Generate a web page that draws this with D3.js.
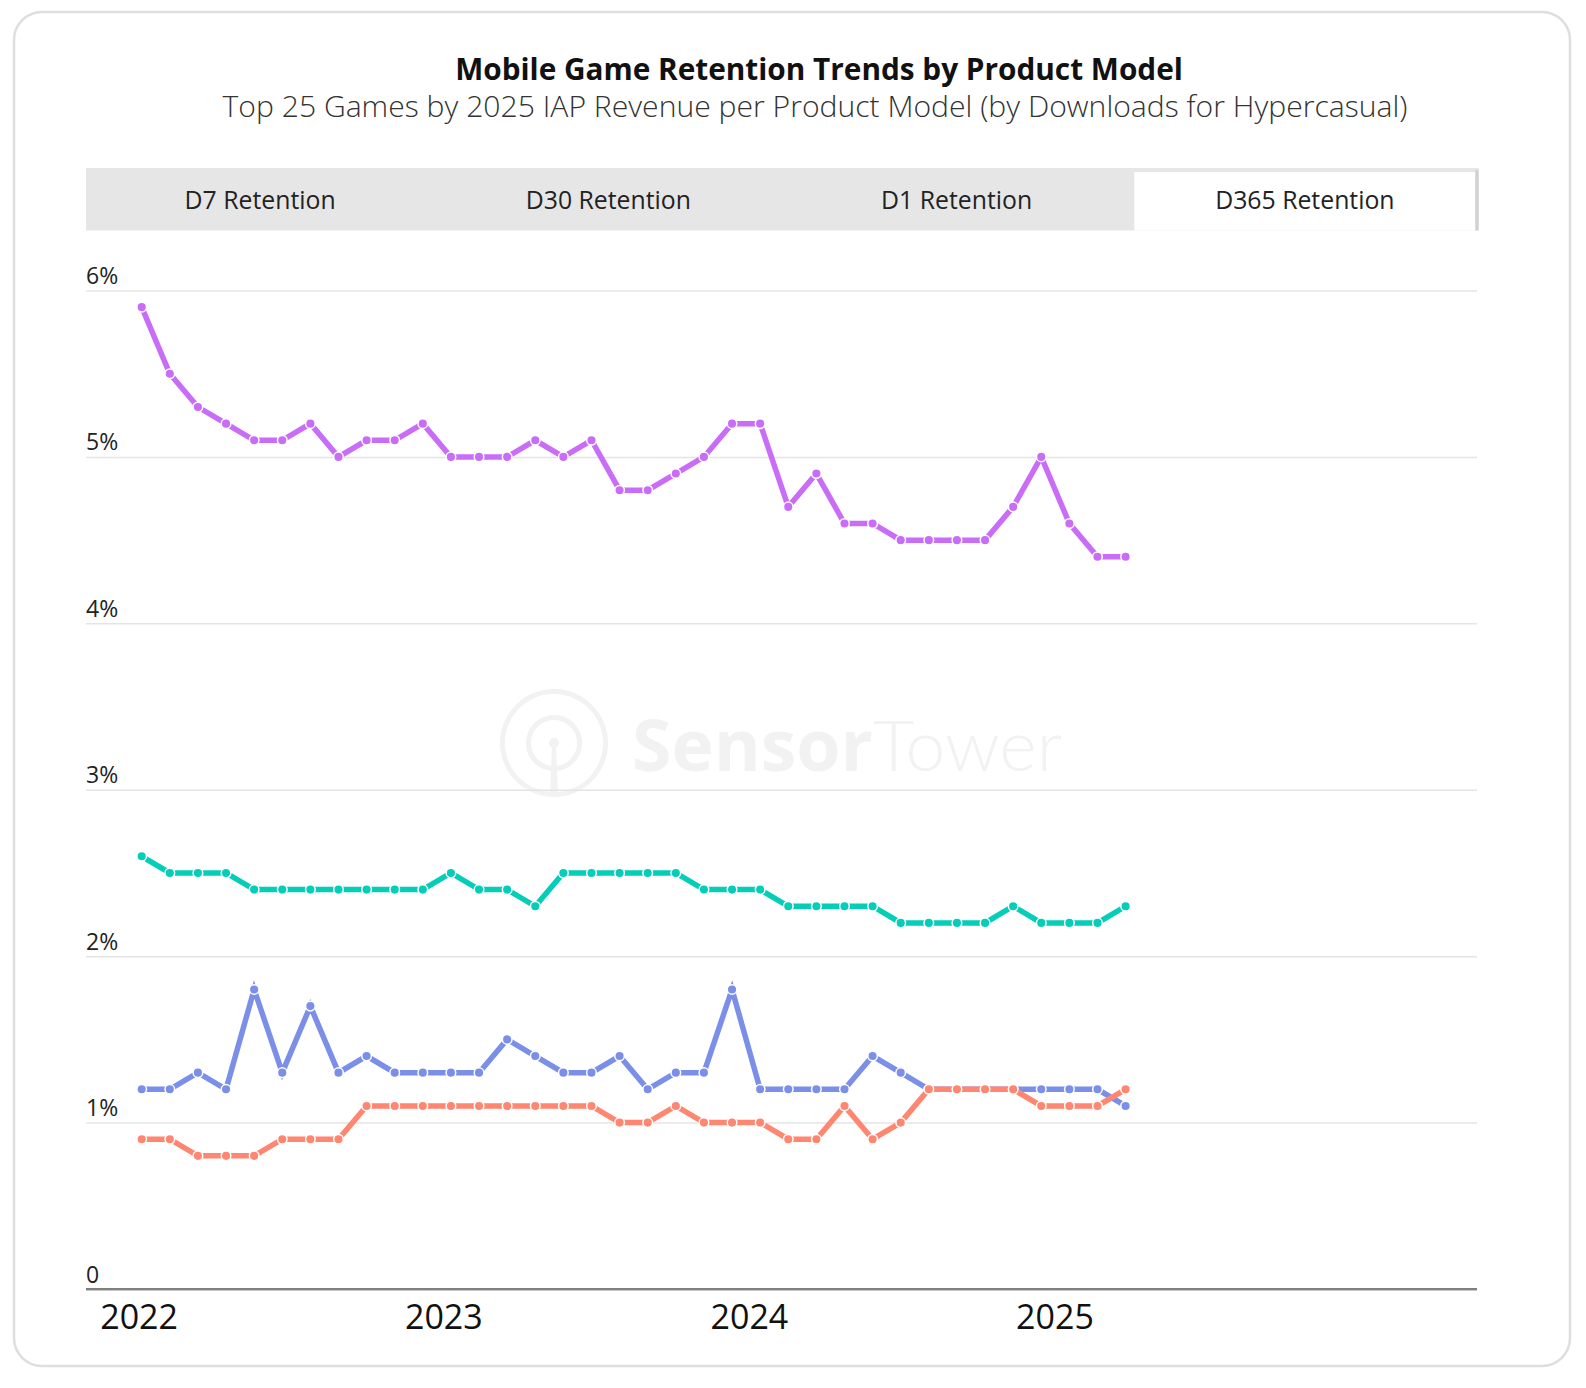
<!DOCTYPE html>
<html>
<head>
<meta charset="utf-8">
<script src="https://cdn.jsdelivr.net/npm/d3@7/dist/d3.min.js"></script>
<style>
  body { margin: 0; background: #fff; }
  svg text { font-family: "Open Sans", "Noto Sans", sans-serif; }
</style>
</head>
<body>
<svg id="chart" width="1586" height="1388"></svg>
<script>
/*
** Data
*/
var tabLabels = ["D7 Retention", "D30 Retention", "D1 Retention", "D365 Retention"];
var activeTab = "D365 Retention";
var yTickValues = [0, 1, 2, 3, 4, 5, 6];
var yearLabels = ["2022", "2023", "2024", "2025"];
// year label positions, in units of the point index
var yearPositions = [-0.11, 10.73, 21.6, 32.47];

var seriesPurple = [5.9, 5.5, 5.3, 5.2, 5.1, 5.1, 5.2, 5.0, 5.1, 5.1, 5.2, 5.0,
                    5.0, 5.0, 5.1, 5.0, 5.1, 4.8, 4.8, 4.9, 5.0, 5.2, 5.2, 4.7,
                    4.9, 4.6, 4.6, 4.5, 4.5, 4.5, 4.5, 4.7, 5.0, 4.6, 4.4, 4.4];
var seriesTeal   = [2.6, 2.5, 2.5, 2.5, 2.4, 2.4, 2.4, 2.4, 2.4, 2.4, 2.4, 2.5,
                    2.4, 2.4, 2.3, 2.5, 2.5, 2.5, 2.5, 2.5, 2.4, 2.4, 2.4, 2.3,
                    2.3, 2.3, 2.3, 2.2, 2.2, 2.2, 2.2, 2.3, 2.2, 2.2, 2.2, 2.3];
var seriesBlue   = [1.2, 1.2, 1.3, 1.2, 1.8, 1.3, 1.7, 1.3, 1.4, 1.3, 1.3, 1.3,
                    1.3, 1.5, 1.4, 1.3, 1.3, 1.4, 1.2, 1.3, 1.3, 1.8, 1.2, 1.2,
                    1.2, 1.2, 1.4, 1.3, 1.2, 1.2, 1.2, 1.2, 1.2, 1.2, 1.2, 1.1];
var seriesSalmon = [0.9, 0.9, 0.8, 0.8, 0.8, 0.9, 0.9, 0.9, 1.1, 1.1, 1.1, 1.1,
                    1.1, 1.1, 1.1, 1.1, 1.1, 1.0, 1.0, 1.1, 1.0, 1.0, 1.0, 0.9,
                    0.9, 1.1, 0.9, 1.0, 1.2, 1.2, 1.2, 1.2, 1.1, 1.1, 1.1, 1.2];

var seriesList = [seriesPurple, seriesTeal, seriesBlue, seriesSalmon];
var seriesColors = ["#c96df8", "#05ceb8", "#7b8fe9", "#ff8670"];

function RetentionChart() {
  /*
  ** Private Variables
  */
  var svg
    , series
    , colors
    , plot = { left: 86, right: 1477, top: 290.5, bottom: 1289 }
    , x = d3.scaleLinear()
    , y = d3.scaleLinear()
    , line = d3.line()
    , watermark = "#f2f2f2"
  ;

  /*
  ** Main Function Object
  */
  function my() {
      x.domain([0, series[0].length - 1]).range([141.7, 1125.6]);
      y.domain([0, 6]).range([plot.bottom, plot.top]);
      line.x(function(d, i) { return x(i); }).y(function(d) { return y(d); });

      cardRender();
      titleRender();
      tabsRender();
      watermarkRender();
      yAxisRender();
      xAxisRender();
      seriesRender();
  } // my() - Main function object

  /*
  ** Helper Functions
  */
  function fitWidth(selection, width) {
      var size = +selection.attr("font-size")
        , w = selection.node().getComputedTextLength()
      ;
      if(w > 0) selection.attr("font-size", size * width / w);
  } // fitWidth()

  function cardRender() {
      svg.append("rect")
          .attr("x", 14).attr("y", 12)
          .attr("width", 1556).attr("height", 1354)
          .attr("rx", 28)
          .attr("fill", "#fff")
          .attr("stroke", "#dedede")
          .attr("stroke-width", 2.5)
      ;
  } // cardRender()

  function titleRender() {
      svg.append("text")
          .attr("x", 819).attr("y", 80)
          .attr("text-anchor", "middle")
          .attr("font-size", 29)
          .attr("font-weight", 700)
          .attr("fill", "#111")
          .text("Mobile Game Retention Trends by Product Model")
          .call(fitWidth, 728)
      ;
      svg.append("text")
          .attr("x", 815).attr("y", 117)
          .attr("text-anchor", "middle")
          .attr("font-family", "Lato, 'Open Sans', sans-serif")
          .attr("font-size", 29)
          .attr("font-weight", 300)
          .attr("fill", "#333")
          .text("Top 25 Games by 2025 IAP Revenue per Product Model (by Downloads for Hypercasual)")
          .call(fitWidth, 1185)
      ;
  } // titleRender()

  function tabsRender() {
      var band = d3.scaleBand().domain(tabLabels).range([86, 1479])
        , g = svg.append("g").attr("class", "tabs")
      ;
      g.append("rect")
          .attr("x", 86).attr("y", 168)
          .attr("width", 1393).attr("height", 62.5)
          .attr("fill", "#e6e6e6")
      ;
      g.append("rect")
          .attr("x", band(activeTab) + 3.5).attr("y", 172)
          .attr("width", band.bandwidth() - 7.5).attr("height", 58.5)
          .attr("fill", "#fff")
      ;
      g.append("line")
          .attr("x1", 1477).attr("x2", 1477)
          .attr("y1", 170).attr("y2", 230.5)
          .attr("stroke", "#d2d2d2")
          .attr("stroke-width", 3)
      ;
      g.selectAll("text.tab")
          .data(tabLabels)
        .enter().append("text")
          .attr("class", "tab")
          .attr("x", function(d) { return band(d) + band.bandwidth() / 2; })
          .attr("y", 208.5)
          .attr("text-anchor", "middle")
          .attr("font-size", 24.8)
          .attr("fill", "#222")
          .text(function(d) { return d; })
      ;
  } // tabsRender()

  function watermarkRender() {
      var g = svg.append("g")
            .attr("transform", "translate(554,743)")
            .attr("fill", watermark)
        , arc = d3.arc()
      ;
      g.append("path")
          .attr("d", arc({ innerRadius: 49, outerRadius: 54, startAngle: Math.PI * 0.88, endAngle: Math.PI * 3.12 }));
      g.append("path")
          .attr("d", arc({ innerRadius: 23, outerRadius: 28, startAngle: Math.PI * 0.8, endAngle: Math.PI * 3.2 }));
      g.append("circle").attr("r", 5);
      g.append("path").attr("d", "M-2,4 L2,4 L4,53 L-4,53 Z");

      var t = svg.append("text")
          .attr("x", 632).attr("y", 771)
          .attr("font-size", 68)
          .attr("fill", watermark)
      ;
      t.append("tspan").attr("font-weight", 700).text("Sensor");
      t.append("tspan").attr("font-weight", 300)
          .attr("font-family", "Lato, 'Open Sans', sans-serif")
          .text("Tower");
      t.call(fitWidth, 430);
  } // watermarkRender()

  function yAxisRender() {
      var axis = d3.axisRight(y)
            .tickValues(yTickValues)
            .tickSize(plot.right - plot.left)
            .tickFormat(function(d) { return d === 0 ? "0" : d + "%"; })
        , g = svg.append("g")
            .attr("transform", "translate(" + plot.left + ",0)")
            .call(axis)
      ;
      g.select(".domain").remove();
      g.selectAll(".tick line")
          .attr("stroke", "#e4e4e4")
          .attr("stroke-width", 1.5)
          .filter(function(d) { return d === 0; })
          .remove()
      ;
      g.selectAll(".tick text")
          .attr("x", 0)
          .attr("dy", -7)
          .attr("text-anchor", "start")
          .attr("font-size", 23)
          .attr("fill", "#222")
      ;
  } // yAxisRender()

  function xAxisRender() {
      var axis = d3.axisBottom(x)
            .tickValues(yearPositions)
            .tickSize(0)
            .tickFormat(function(d, i) { return yearLabels[i]; })
        , g = svg.append("g")
            .attr("transform", "translate(0," + plot.bottom + ")")
            .call(axis)
      ;
      g.select(".domain").remove();
      g.selectAll(".tick text")
          .attr("y", 40)
          .attr("dy", 0)
          .attr("font-size", 34)
          .attr("fill", "#111")
      ;
      g.append("line")
          .attr("x1", plot.left).attr("x2", plot.right)
          .attr("y1", 0).attr("y2", 0)
          .attr("stroke", "#555")
          .attr("stroke-width", 1.5)
      ;
      g.append("line")
          .attr("x1", plot.left).attr("x2", plot.right)
          .attr("y1", 1.5).attr("y2", 1.5)
          .attr("stroke", "#c8c8c8")
          .attr("stroke-width", 1)
      ;
  } // xAxisRender()

  function seriesRender() {
      var groups = svg.append("g").attr("class", "series")
          .selectAll("g")
          .data(series)
        .enter().append("g")
      ;
      groups.append("path")
          .attr("d", function(d) { return line(d); })
          .attr("fill", "none")
          .attr("stroke", function(d, i) { return colors[i]; })
          .attr("stroke-width", 5.5)
      ;
      groups.each(function(d, i) {
          d3.select(this).selectAll("circle")
              .data(d)
            .enter().append("circle")
              .attr("cx", function(v, j) { return x(j); })
              .attr("cy", function(v) { return y(v); })
              .attr("r", 4.8)
              .attr("fill", colors[i])
              .attr("stroke", "#fff")
              .attr("stroke-width", 1.5)
          ;
        })
      ;
  } // seriesRender()

  /*
  ** API (Getter/Setter) Functions
  */
  my.svg = function(_) {
      if(!arguments.length) return svg;
      svg = _;
      return my;
    } // my.svg()
  ;
  my.series = function(_) {
      if(!arguments.length) return series;
      series = _;
      return my;
    } // my.series()
  ;
  my.colors = function(_) {
      if(!arguments.length) return colors;
      colors = _;
      return my;
    } // my.colors()
  ;

  // This is always the last thing returned
  return my;
} // RetentionChart()

RetentionChart()
    .svg(d3.select("#chart"))
    .series(seriesList)
    .colors(seriesColors)
    ()
;
</script>
</body>
</html>
